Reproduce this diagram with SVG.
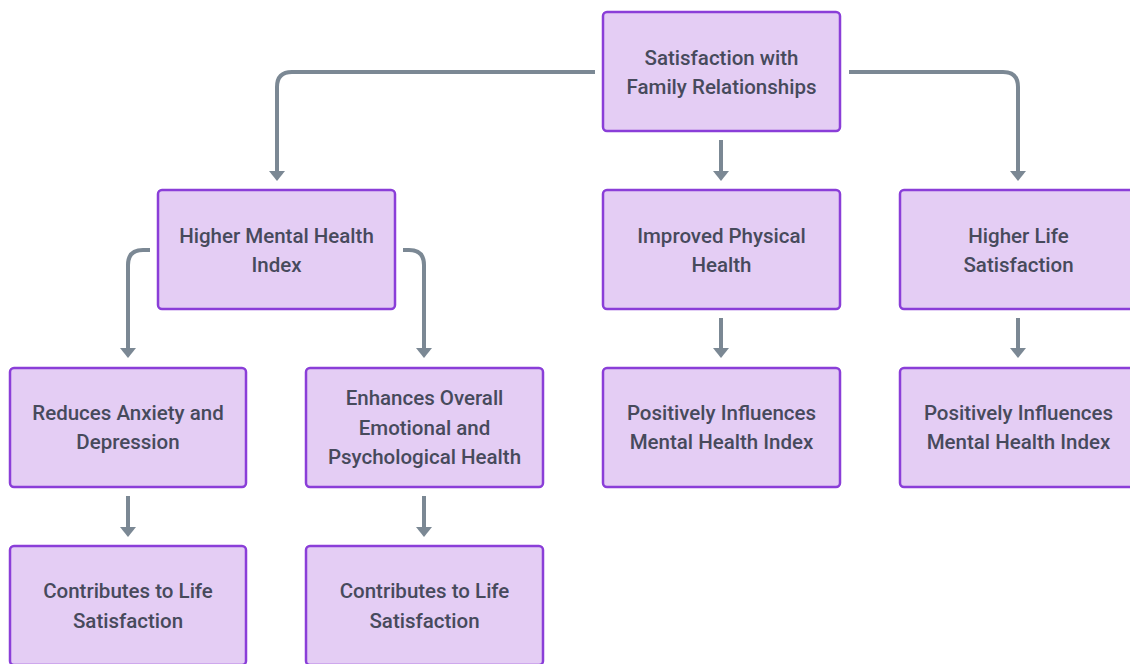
<svg xmlns="http://www.w3.org/2000/svg" width="1130" height="664" viewBox="0 0 1130 664">
<style>
.n rect{fill:#e4cdf4;stroke:#8a3ed8;stroke-width:2.5}
.n text{font-family:Roboto,"Liberation Sans",sans-serif;font-size:20.5px;font-weight:500;fill:#474a5c;text-anchor:middle}
.c path{fill:none;stroke:#7b8894;stroke-width:4;marker-end:url(#ah)}
</style>
<defs>
<marker id="ah" markerUnits="userSpaceOnUse" viewBox="0 0 10 16" refX="4" refY="8" markerWidth="10" markerHeight="16" orient="auto">
<path d="M0,0 L10,8 L0,16 z" fill="#7b8894"/>
</marker>
</defs>
<rect width="1130" height="664" fill="#ffffff"/>
<g class="c" id="connectors">
<path d="M595,72 H292 Q277,72 277,87 V175"/>
<path d="M849,72 H1003 Q1018,72 1018,87 V175"/>
<path d="M721,140 V175"/>
<path d="M150,250 H143 Q128,250 128,265 V352"/>
<path d="M403,250 H409 Q424,250 424,265 V352"/>
<path d="M721,318 V352"/>
<path d="M1018,318 V352"/>
<path d="M128,496 V531"/>
<path d="M424,496 V531"/>
</g>
<g class="n" id="n-root"><rect x="603" y="12" width="237" height="119" rx="4"/><text x="721.5" y="65">Satisfaction with</text><text x="721.5" y="94">Family Relationships</text></g>
<g class="n" id="n-mental"><rect x="158" y="190" width="237" height="119" rx="4"/><text x="276.5" y="243">Higher Mental Health</text><text x="276.5" y="272">Index</text></g>
<g class="n" id="n-physical"><rect x="603" y="190" width="237" height="119" rx="4"/><text x="721.5" y="243">Improved Physical</text><text x="721.5" y="272">Health</text></g>
<g class="n" id="n-life"><rect x="900" y="190" width="237" height="119" rx="4"/><text x="1018.5" y="243">Higher Life</text><text x="1018.5" y="272">Satisfaction</text></g>
<g class="n" id="n-anxiety"><rect x="10" y="368" width="236" height="119" rx="4"/><text x="128" y="420">Reduces Anxiety and</text><text x="128" y="449">Depression</text></g>
<g class="n" id="n-emotional"><rect x="306" y="368" width="237" height="119" rx="4"/><text x="424.5" y="405">Enhances Overall</text><text x="424.5" y="435">Emotional and</text><text x="424.5" y="464">Psychological Health</text></g>
<g class="n" id="n-pos1"><rect x="603" y="368" width="237" height="119" rx="4"/><text x="721.5" y="420">Positively Influences</text><text x="721.5" y="449">Mental Health Index</text></g>
<g class="n" id="n-pos2"><rect x="900" y="368" width="237" height="119" rx="4"/><text x="1018.5" y="420">Positively Influences</text><text x="1018.5" y="449">Mental Health Index</text></g>
<g class="n" id="n-contrib1"><rect x="10" y="546" width="236" height="119" rx="4"/><text x="128" y="598">Contributes to Life</text><text x="128" y="628">Satisfaction</text></g>
<g class="n" id="n-contrib2"><rect x="306" y="546" width="237" height="119" rx="4"/><text x="424.5" y="598">Contributes to Life</text><text x="424.5" y="628">Satisfaction</text></g>
</svg>
